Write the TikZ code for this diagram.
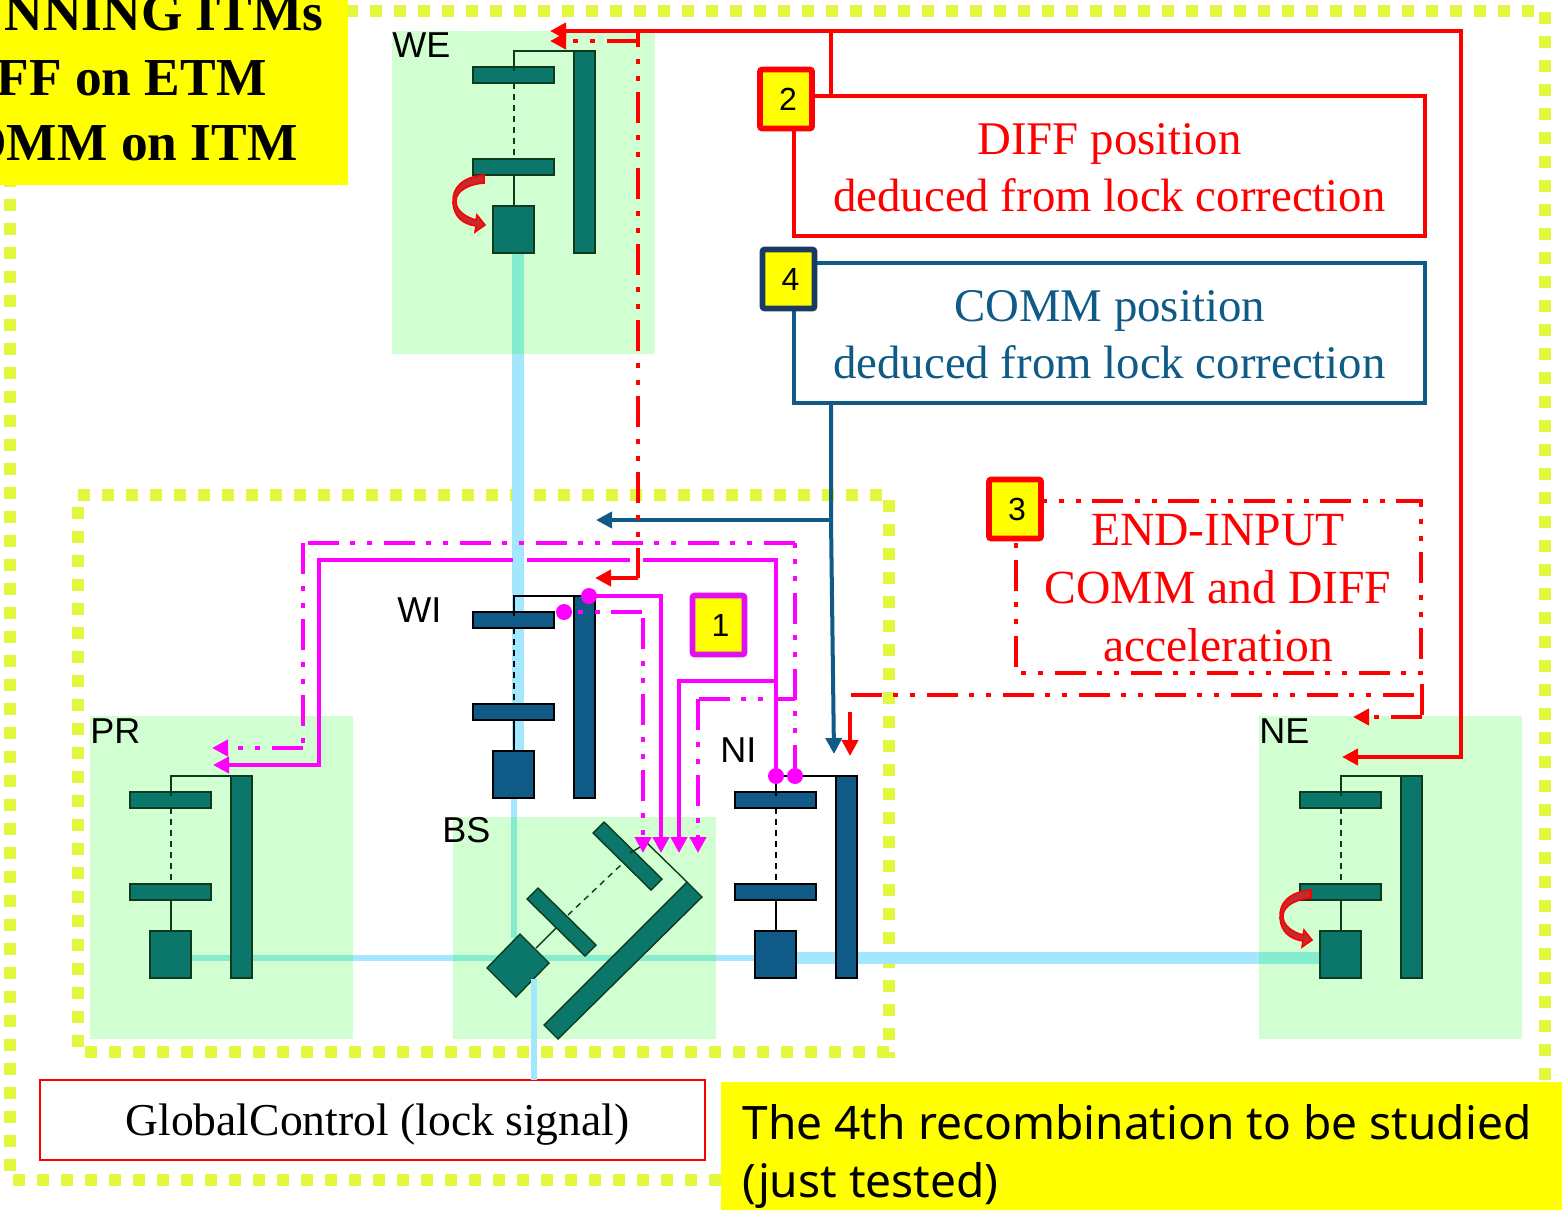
\documentclass[tikz,border=0pt]{standalone}
\usepackage{fontspec}
\setmainfont{Liberation Serif}
\setsansfont{Liberation Sans}
\newfontfamily\notefont{Noto Sans}
\usepackage{xcolor}
\usetikzlibrary{arrows.meta,positioning,calc}
\definecolor{FrameLime}{HTML}{E2F73E}
\definecolor{SoftGreen}{HTML}{D1FFD1}
\definecolor{BeamBlue}{HTML}{A3E7FF}
\definecolor{BeamGreen}{HTML}{85ECCD}
\definecolor{DeepTeal}{HTML}{0B766A}
\definecolor{TealEdge}{HTML}{0E3A1E}
\definecolor{DeepBlue}{HTML}{0F5A87}
\definecolor{NavyEdge}{HTML}{1A3A66}
\definecolor{BadgeMagenta}{HTML}{E010F0}
\definecolor{CurlRed}{HTML}{C42A30}
\definecolor{PureMagenta}{HTML}{FF00FF}
\definecolor{PureYellow}{HTML}{FFFF00}
\definecolor{PureRed}{HTML}{FF0000}
\newcommand{\sized}[2]{\fontsize{#1}{#2}\selectfont}
\newcommand{\drop}[1]{\rule{0pt}{#1}}
\tikzset{
  framed/.style={draw=FrameLime,line width=6pt,dash pattern=on 6pt off 6pt},
  zone/.style={fill=SoftGreen,draw=none},
  beam/.style={draw=BeamBlue,line width=6pt},
  beamg/.style={draw=BeamGreen,line width=6pt},
  thinbeam/.style={draw=BeamBlue,line width=3pt},
  thinbeamg/.style={draw=BeamGreen,line width=3pt},
  tip/.style={-{Triangle[length=8pt,width=8pt]}},
  twodots/.style={dash pattern=on 15.5pt off 6pt on 2.5pt off 6pt on 2.5pt off 5.5pt},
  redline/.style={draw=PureRed,line width=2pt},
  reddash/.style={draw=PureRed,line width=2pt,twodots},
  bluelink/.style={draw=DeepBlue,line width=2pt},
  pinkline/.style={draw=PureMagenta,line width=2pt},
  pinkdash/.style={draw=PureMagenta,line width=2pt,twodots},
  ball/.style={circle,fill=PureMagenta,inner sep=0pt,minimum size=8pt},
  textbox/.style={rectangle,fill=white,line width=2pt,align=center,inner sep=0pt,outer sep=0pt,
              minimum width=315.5pt,font=\sized{23.4}{28.5}},
  badge/.style={rectangle,fill=PureYellow,line width=2.8pt,rounded corners=1pt,inner sep=0pt,
              outer sep=0pt,minimum width=26pt,minimum height=29.5pt,font=\sffamily\sized{16}{18},
              execute at begin node=\hspace{2pt}},
  yellowbox/.style={rectangle,fill=PureYellow,inner sep=0pt,outer sep=0pt},
  title/.style={anchor=base east,inner sep=0pt,font=\bfseries\sized{26.7}{30}},
  tag/.style={anchor=base west,inner sep=0pt,font=\sffamily\sized{18}{20}},
  tested/.style={anchor=base west,inner sep=0pt,font=\notefont\sized{23.05}{28}}
}
% one suspended mirror: offset x, offset y, fill, edge
\newcommand{\suspension}[4]{
  \begin{scope}[shift={(#1,#2)},fill=#3,draw=#4,line width=0.7pt]
    \filldraw (473,67) rectangle (554,83);
    \filldraw (473,159) rectangle (554,175);
    \filldraw (493,206) rectangle (534,253);
    \filldraw (574,51) rectangle (595,253);
    \draw (514,71) -- (514,51) -- (574,51);
    \draw[dash pattern=on 3pt off 2.5pt] (514,83) -- (514,159);
    \draw (514,175) -- (514,206);
  \end{scope}
}
\newcommand{\curl}[2]{
  \filldraw[shift={(#1,#2)},fill=CurlRed,draw=PureRed,line width=0.8pt]
    (484,175) .. controls (462,177) and (452,188) .. (453,203)
    .. controls (454,216) and (462,224) .. (476,226) -- (475,232) -- (485,225) -- (477,215) -- (476,220)
    .. controls (465,217) and (455,210) .. (456,200) .. controls (457,190) and (470,184) .. (484,183) -- cycle;
}
\begin{document}
\begin{tikzpicture}[x=0.5pt,y=-0.5pt,line cap=butt]
  \useasboundingbox (0,0) rectangle (1562,1210);

  \draw[framed] (10,11) -- (1545,11) -- (1545,1180) -- (10,1180) -- cycle;
  \draw[framed] (78,495) -- (889,495) -- (889,1052) -- (78,1052) -- cycle;

  \fill[zone] (392,31) rectangle (655,354);
  \fill[zone] (90,716) rectangle (353,1039);
  \fill[zone] (453,817) rectangle (716,1039);
  \fill[zone] (1259,716) rectangle (1522,1039);

  % beams
  \draw[beamg] (518,253) -- (518,354);
  \draw[beam] (518,354) -- (518,750);
  \draw[thinbeam] (514,797) -- (514,817);
  \draw[thinbeamg] (514,817) -- (514,938);
  \draw[thinbeamg] (191,958) -- (353,958);
  \draw[thinbeam] (353,958) -- (453,958);
  \draw[thinbeamg] (453,958) -- (716,958);
  \draw[thinbeam] (716,958) -- (755,958);
  \draw[beam] (797,958) -- (1259,958);
  \draw[beamg] (1259,958) -- (1320,958);

  % mirrors
  \suspension{0}{0}{DeepTeal}{TealEdge}
  \suspension{0}{545}{DeepBlue}{black}
  \suspension{-343}{725}{DeepTeal}{TealEdge}
  \suspension{262}{725}{DeepBlue}{black}
  \suspension{827}{725}{DeepTeal}{TealEdge}
  \curl{0}{0}
  \curl{827}{715}

  % the rotated bench
  \begin{scope}[fill=DeepTeal,draw=TealEdge,line width=0.7pt]
    \filldraw (604,822) -- (593,833) -- (651,890) -- (662,879) -- cycle;
    \filldraw (538,888) -- (527,899) -- (585,956) -- (596,945) -- cycle;
    \filldraw (520,934) -- (487,968) -- (516,997) -- (549,963) -- cycle;
    \filldraw (687,882) -- (702,897) -- (558,1039) -- (544,1025) -- cycle;
    \draw (630,853) -- (647,843) -- (687,882);
    \draw[dash pattern=on 3pt off 2.5pt] (568,915) -- (623,863);
    \draw (536,948) -- (556,928);
  \end{scope}

  \node[tag] (we) at (392,57) {WE};
  \node[tag] (wi) at (397,622) {WI};
  \node[tag] (pr) at (90,743) {PR};
  \node[tag] (bs) at (442,842) {BS};
  \node[tag] (ni) at (720,762) {NI};
  \node[tag] (ne) at (1259,743) {NE};

  % text boxes
  \node[textbox,draw=PureRed,text=PureRed,minimum height=70pt] (diff) at (1109.5,166)
    {\drop{17.4pt}DIFF position\\deduced from lock correction};
  \node[textbox,draw=DeepBlue,text=DeepBlue,minimum height=70pt] (comm) at (1109.5,333)
    {\drop{17.4pt}COMM position\\deduced from lock correction};
  \node[textbox,text=PureRed,fill=none,minimum width=202.5pt,minimum height=86pt,
        font=\sized{23.8}{29}] (accel) at (1218,587)
    {\drop{16.3pt}END-INPUT\\COMM and DIFF\\acceleration};
  \draw[reddash] (accel.north west) -- (accel.north east) -- (accel.south east)
    -- (accel.south west) -- cycle;
  \node[rectangle,draw=PureRed,fill=white,line width=0.7pt,minimum width=332.5pt,minimum height=40pt,
        inner sep=0pt,outer sep=0pt,font=\sized{22.8}{26}] (control) at (372.5,1120)
    {\hspace{5pt}\raisebox{-7.5pt}[0pt][0pt]{GlobalControl (lock signal)}};

  \node[badge,draw=PureRed] (b2) at (786,99) {2};
  \node[badge,draw=NavyEdge] (b4) at (788.5,279) {4};
  \node[badge,draw=PureRed] (b3) at (1015,509) {3};
  \node[badge,draw=BadgeMagenta] (b1) at (718.5,625) {1};

  % junctions and free ends
  \coordinate (redtop) at (831,31);
  \coordinate (redright) at (1461,31);
  \coordinate (neend) at (1342,757);
  \coordinate (weend) at (550,31);
  \coordinate (wedash) at (550,41);
  \coordinate (redfall) at (638,31);
  \coordinate (redstep) at (638,41);
  \coordinate (wiend) at (595,578);
  \coordinate (blueend) at (834,754);
  \coordinate (bluefork) at (831,520);
  \coordinate (bsend) at (596,520);
  \coordinate (accelout) at (1422,684);
  \coordinate (accelturn) at (1422,717);
  \coordinate (neaccel) at (1353,717);
  \coordinate (nifork) at (1414,695);
  \coordinate (niturn) at (850,695);
  \coordinate (nidrop) at (850,712);
  \coordinate (niaccel) at (850,756);

  \draw[redline] (diff.north -| redtop) -- (redtop);
  \draw[redline,tip] (redtop) -- (weend);
  \draw[redline,tip] (redtop) -- (redright) |- (neend);
  \draw[bluelink,tip] (comm.south -| bluefork) -- (bluefork) -- (blueend);
  \draw[bluelink,tip] (bluefork) -- (bsend);

  % magenta sensing lines
  \node[ball] (wisolid) at (589,596) {};
  \node[ball] (widash) at (564,612) {};
  \node[ball] (nisolid) at (776,776) {};
  \node[ball] (nidash) at (795,776) {};
  \coordinate (tipa) at (643,853);
  \coordinate (tipb) at (661,853);
  \coordinate (tipc) at (679,853);
  \coordinate (tipd) at (698,853);
  \coordinate (prsolid) at (213,765);
  \coordinate (prdash) at (212,748);
  \coordinate (topright) at (795,543);
  \coordinate (topleft) at (303,543);
  \coordinate (downleft) at (303,748);
  \coordinate (midturn) at (698,699);

  \draw[pinkline,tip] (wisolid.center) -| (tipb);
  \draw[pinkdash,dash phase=14.5pt] (widash.center) -- (643,612);
  \draw[pinkdash,tip] (643,618) -- (tipa);
  \draw[pinkline,tip] (776,681) -| (tipc);
  \draw[pinkdash,dash phase=5.5pt] (795,699) -- (midturn);
  \draw[pinkdash,tip] (midturn) -- (tipd);
  \draw[pinkline] (nisolid.center) -- (776,560) -- (643,560);
  \draw[pinkline] (630,560) -- (527,560);
  \draw[pinkline,tip] (513,560) -- (319,560) -- (319,765) -- (prsolid);
  \draw[pinkdash] (nidash.center) -- (topright);
  \draw[pinkdash] (topright) -- (topleft);
  \draw[pinkdash] (topleft) -- (downleft);
  \draw[pinkdash,tip] (downleft) -- (prdash);

  % red correction lines
  \draw[reddash,dash phase=7.5pt] (redfall) -- (638,578);
  \draw[redline,tip] (638,578) -- (wiend);
  \draw[reddash,tip] (redstep) -- (wedash);
  \draw[reddash] (accelout) -- (accelturn);
  \draw[reddash,tip] (accelturn) -- (neaccel);
  \draw[reddash] (nifork) -- (niturn);
  \draw[redline,tip] (nidrop) -- (niaccel);

  % yellow notes go last, they hide the frame
  \node[yellowbox,minimum width=174pt,minimum height=92.5pt] (titlebox) at (174,92.5) {};
  \node[title] (t1) at (324,30) {NNING ITMs};
  \node[title] (t2) at (267,95) {FF on ETM};
  \node[title] (t3) at (298,160) {OMM on ITM};
  \node[yellowbox,minimum width=420.5pt,minimum height=64pt] (testedbox) at (1141.5,1146) {};
  \node[tested] (l1) at (742,1139) {The 4th recombination to be studied};
  \node[tested] (l2) at (742,1197) {(just tested)};

  \draw[thinbeam] (534,979) -- (control.north -| 534,979);
\end{tikzpicture}
\end{document}
